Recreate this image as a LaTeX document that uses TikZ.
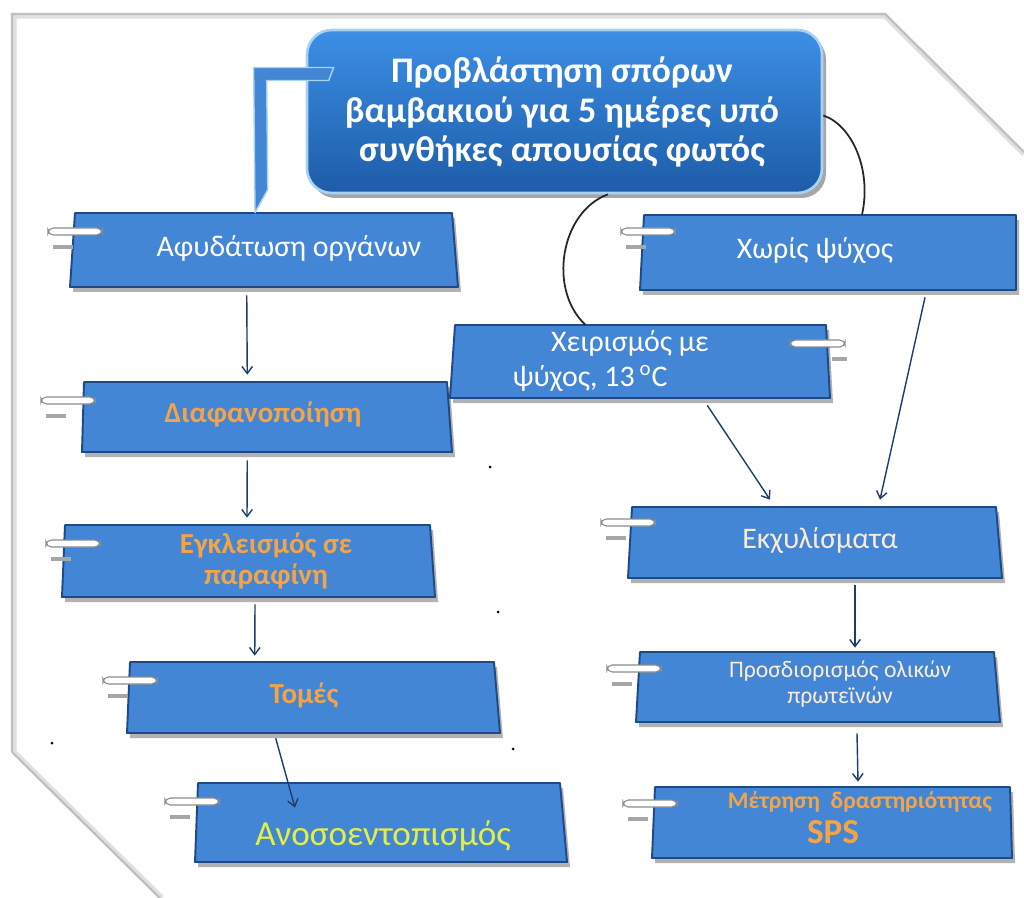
\documentclass[tikz,border=0pt]{standalone}
\usepackage{fontspec}
\setmainfont{Carlito}
\usetikzlibrary{calc,arrows.meta,shadows}
\definecolor{boxfill}{HTML}{4486D6}
\definecolor{boxline}{HTML}{1F4A86}
\definecolor{ttop}{HTML}{3C8FE6}
\definecolor{tbot}{HTML}{1D5CA8}
\definecolor{tline}{HTML}{A9D2F2}
\definecolor{orangetxt}{HTML}{F5A445}
\definecolor{yellowtxt}{HTML}{E2F044}
\definecolor{creamtxt}{HTML}{FBEBD6}
\definecolor{arrcol}{HTML}{1F3C6E}
\tikzset{
  boxst/.style={fill=boxfill, draw=boxline, line width=1.1pt, line join=round},
  shadowst/.style={fill=black!30},
  anchorbox/.style={inner sep=0pt, draw=none},
  pillst/.style={fill=white, draw=black!45, line width=0.6pt, rounded corners=3pt},
  pillshadow/.style={fill=black!35},
  arr/.style={draw=arrcol, line width=0.8pt, -{Straight Barb[length=4pt,width=6pt]}},
  curvest/.style={draw=black!85, line width=1pt},
  wtxt/.style={text=white, font=\fontsize{17}{20}\selectfont, align=center},
  otxt/.style={text=orangetxt, font=\bfseries\fontsize{16.5}{18}\selectfont, align=center},
  framest/.style={draw=black!25, line width=1.2pt},
}
\newcommand\trapbox[7]{%
  \fill[shadowst] ({#2+3},{#6+5}) -- ({#3+3},{#6+5}) -- ({#4+3},{#7+5}) -- ({#5+3},{#7+5}) -- cycle;
  \draw[boxst] (#2,#6) -- (#3,#6) -- (#4,#7) -- (#5,#7) -- cycle;
  \node[anchorbox, minimum width={(#3-#2)*0.02cm}, minimum height={(#7-#6)*0.02cm}] (#1) at ({(#2+#3+#4+#5)/4},{(#6+#7)/2}) {};
}
\newcommand\pill[2]{% left x, top y of box
  \fill[pillshadow] ({#1-22},{#2+32}) rectangle ({#1-2},{#2+36});
  \draw[pillst] ({#1-27},{#2+15}) rectangle ({#1+27},{#2+22});
}
\begin{document}
\begin{tikzpicture}[x=0.02cm,y=-0.02cm]
\useasboundingbox (0,0) rectangle (1024,898);
\fill[white] (0,0) rectangle (1024,898);
% frame
\draw[draw=black!12, line width=3pt] (14,752) -- (14,16) -- (885,16) -- (1024,154);
\draw[draw=black!12, line width=3pt] (14,752) -- (162,898);
\draw[framest] (12,752) -- (12,14) -- (885,14) -- (1024,152);
\draw[framest] (12,752) -- (160,898);

% title
\fill[black!35, rounded corners=14pt] (311,35) rectangle (826,198);
\node[draw=tline, line width=1.5pt, rounded corners=14pt, top color=ttop, bottom color=tbot,
      minimum width=515*0.02cm, minimum height=163*0.02cm, inner sep=0pt] (title) at (564.5,111.5) {};
\node[text=white, font=\bfseries\fontsize{20.5}{22.7}\selectfont, align=center] (ttxt) at (562,112)
  {Προβλάστηση σπόρων\\βαμβακιού για 5 ημέρες υπό\\συνθήκες απουσίας φωτός};

% left column
\trapbox{b1}{75}{452}{458}{70}{213}{287}
\trapbox{b2}{84}{447}{452}{82}{382}{452}
\trapbox{b3}{65}{430}{435}{62}{525}{597}
\trapbox{b4}{130}{494}{500}{127}{662}{733}
\trapbox{b5}{198}{560}{567}{195}{783}{862}
% right column
\trapbox{r1}{644}{1016}{1016}{640}{215}{290}
\trapbox{r2}{455}{826}{830}{450}{325}{398}
\trapbox{r3}{632}{996}{1002}{628}{507}{578}
\trapbox{r4}{640}{994}{1000}{636}{652}{722}
\trapbox{r5}{655}{1010}{1012}{652}{787}{858}

% clips
\pill{75}{213}
\pill{68}{382}
\pill{73}{525}
\pill{130}{662}
\pill{192}{783}
\pill{648}{213}
\pill{628}{504}
\pill{634}{650}
\pill{650}{785}
\fill[pillshadow] (832,{325+32}) rectangle (847,{325+36});
\draw[pillst] (790,{325+15}) rectangle (845,{325+22});

% title bracket to b1
\draw[fill=boxfill, draw=tline, line width=0.8pt, line join=round]
  ($(title.west)+(28,-44)$) -- ($(title.west)+(-52,-44)$) -- ($(b1.north)+(-8.75,0)$)
  -- ($(b1.north)+(4,-23)$) -- ($(title.west)+(-39,-31)$) -- ($(title.west)+(23,-31)$) -- cycle;

% texts
\node[wtxt] (t1) at (289,248) {Αφυδάτωση οργάνων};
\node[otxt] (t2) at (263,414) {Διαφανοποίηση};
\node[otxt] (t3) at (266,561) {Εγκλεισμός σε\\παραφίνη};
\node[otxt] (t4) at (304,695) {Τομές};
\node[text=yellowtxt, font=\fontsize{20}{22}\selectfont] (t5) at (383,836) {Ανοσοεντοπισμός};
\node[wtxt] (s1) at (815,250) {Χωρίς ψύχος};
\node[wtxt] (s2a) at (630,343) {Χειρισμός με};
\node[wtxt] (s2b) at (590,378) {ψύχος, 13\,\textsuperscript{o}C};
\node[text=creamtxt, font=\fontsize{17}{20}\selectfont] (s3) at (820,540) {Εκχυλίσματα};
\node[text=creamtxt, font=\fontsize{13.5}{15}\selectfont, align=center] (s4) at (840,684) {Προσδιορισμός ολικών\\πρωτεϊνών};
\node[text=orangetxt, font=\bfseries\fontsize{13.5}{16}\selectfont] (s5) at (860,802) {Μέτρηση\ \ δραστηριότητας};
\node[text=orangetxt, font=\bfseries\fontsize{20}{22}\selectfont] (s5b) at (833,832) {SPS};

% arrows
\draw[arr] ($(b1.south)+(-17,8)$) -- ($(b2.north)+(-19,-7)$);
\draw[arr] ($(b2.south)+(-19,8)$) -- ($(b3.north)+(-1,-7)$);
\draw[arr] ($(b3.south)+(7,7)$) -- ($(b4.north)+(-58,-6)$);
\draw[arr] ($(b4.south)+(-37,5)$) -- ($(b5.north)+(-85,25)$);
\draw[arr] ($(r2.south)+(67,7)$) -- ($(r3.north)+(-44.5,-7)$);
\draw[arr] ($(r1.south)+(96,7)$) -- ($(r3.north)+(65.5,-7)$);
\draw[arr] ($(r3.south)+(40.5,7)$) -- ($(r4.north)+(37.5,-4)$);
\draw[arr] ($(r4.south)+(39.5,11)$) -- ($(r5.north)+(25.75,-5)$);

% curved connectors
\draw[curvest] ($(title.east)+(0,4)$) .. controls (852,125) and (872,170) .. ($(r1.north)+(33,0)$);
\draw[curvest] ($(title.south)+(43.5,0)$) .. controls (560,212) and (548,290) .. ($(r2.north)+(-55,0)$);

% specks
\fill[black] (490,467) circle (1.5);
\fill[black] (498,612) circle (1.5);
\fill[black] (513,749) circle (1.5);
\fill[black] (52,743) circle (1.5);
\end{tikzpicture}
\end{document}
